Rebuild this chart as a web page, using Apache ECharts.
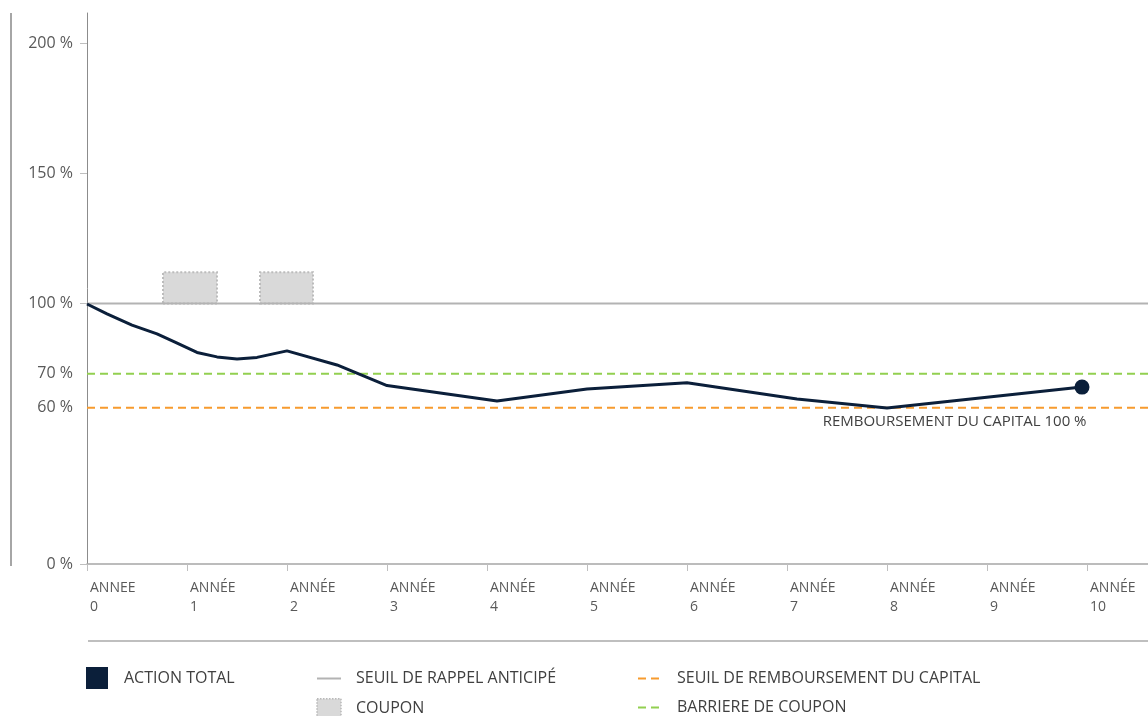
<!DOCTYPE html>
<html lang="fr">
  <head>
    <meta charset="UTF-8" />
    <title>Action Total - scénario</title>
    <script src="https://cdn.jsdelivr.net/npm/echarts@6/dist/echarts.min.js"></script>
    <style>
      html, body { margin: 0; padding: 0; background: #fff; }
      #main { width: 1148px; height: 716px; }
    </style>
  </head>
  <body>
    <div id="main"></div>
    <script type="text/javascript">
      // données
      const yearValues = [0, 1, 2, 3, 4, 5, 6, 7, 8, 9, 10];
      const yearLabels = ['ANNEE\n0', 'ANNÉE\n1', 'ANNÉE\n2', 'ANNÉE\n3', 'ANNÉE\n4', 'ANNÉE\n5',
        'ANNÉE\n6', 'ANNÉE\n7', 'ANNÉE\n8', 'ANNÉE\n9', 'ANNÉE\n10'];

      const rappelLevel = 100;
      const capitalLevel = 60;
      const barrierLevel = 73;

      const yTickValues = [0, 100, 150, 200];
      const yLabelValues = [0, capitalLevel, barrierLevel, 100, 150, 200];
      const yLabelTexts = ['0 %', '60 %', '70 %', '100 %', '150 %', '200 %'];

      const actionT = [0, 0.2, 0.45, 0.7, 0.88, 1.1, 1.3, 1.5, 1.7, 2.0, 2.5, 3.0, 4.1, 5.0, 6.0, 7.1, 8.0, 9.95];
      const actionV = [99.8, 96.0, 91.7, 88.3, 85.2, 81.2, 79.5, 78.7, 79.3, 81.8, 76.4, 68.5, 62.6, 67.2, 69.6, 63.3, 59.9, 67.9];

      const couponFrom = [0.76, 1.73];
      const couponTo = [1.3, 2.26];
      const couponTop = 112;

      const xMax = 10.61;
      const yMax = 211.5;

      const navy = '#0b1f3a';
      const grey = '#595959';
      const font = 'Open Sans';

      const actionData = actionT.map((t, i) => [t, actionV[i]]);
      const last = actionData[actionData.length - 1];

      const couponAreas = couponFrom.map((x0, i) => [
        { xAxis: x0, yAxis: rappelLevel },
        { xAxis: couponTo[i], yAxis: couponTop },
      ]);

      const levelLine = (name, level, color, dashed) => ({
        name,
        type: 'line',
        data: [[0, level], [xMax, level]],
        symbol: 'none',
        silent: true,
        itemStyle: { color },
        lineStyle: { color, width: 2, type: dashed ? [8, 5] : 'solid' },
      });

      // pas de rond dans l'icône de légende, seulement le trait
      const lineItem = (name) => ({ name, itemStyle: { color: 'rgba(0,0,0,0)', borderWidth: 0, opacity: 0 } });

      const legendText = { color: '#404040', fontSize: 16, fontFamily: font, lineHeight: 19 };

      const chart = echarts.init(document.getElementById('main'));

      const option = {
        animation: false,
        grid: { left: 87, right: 0, top: 13, bottom: 152 },
        xAxis: {
          type: 'value',
          min: 0,
          max: xMax,
          splitLine: { show: false },
          axisLine: { lineStyle: { color: '#a6a6a6', width: 1.5 } },
          axisTick: { customValues: yearValues, length: 7, lineStyle: { color: '#bfbfbf' } },
          axisLabel: {
            customValues: yearValues,
            formatter: (v) => yearLabels[yearValues.indexOf(Math.round(v))],
            align: 'left',
            padding: [0, 0, 0, 3],
            margin: 15,
            lineHeight: 19,
            fontSize: 14,
            fontFamily: font,
            color: grey,
          },
        },
        yAxis: {
          type: 'value',
          min: 0,
          max: yMax,
          splitLine: { show: false },
          axisLine: { show: true, lineStyle: { color: '#8c8c8c', width: 1 } },
          axisTick: { show: true, customValues: yTickValues, length: 7, lineStyle: { color: '#bfbfbf' } },
          axisLabel: {
            customValues: yLabelValues,
            formatter: (v) => yLabelTexts[yLabelValues.indexOf(v)],
            margin: 14,
            fontSize: 16,
            fontFamily: font,
            color: grey,
            padding: [0, 0, 12, 0],
          },
        },
        legend: [
          {
            left: 86,
            top: 667,
            padding: 0,
            icon: 'rect',
            itemWidth: 22,
            itemHeight: 22,
            selectedMode: false,
            textStyle: Object.assign({}, legendText, { padding: [0, 0, 0, 11] }),
            data: ['ACTION TOTAL'],
          },
          {
            left: 316,
            top: 669,
            height: 60,
            padding: 0,
            orient: 'vertical',
            itemWidth: 24,
            itemHeight: 19,
            itemGap: 10,
            selectedMode: false,
            textStyle: Object.assign({}, legendText, { padding: [0, 0, 0, 10] }),
            data: [
              lineItem('SEUIL DE RAPPEL ANTICIPÉ'),
              {
                name: 'COUPON',
                icon: 'rect',
                itemStyle: { color: '#d9d9d9', borderColor: '#b8b8b8', borderType: 'dotted', borderWidth: 1.5 },
              },
            ],
          },
          {
            left: 637,
            top: 669,
            height: 60,
            padding: 0,
            orient: 'vertical',
            itemWidth: 24,
            itemHeight: 19,
            itemGap: 10,
            selectedMode: false,
            textStyle: Object.assign({}, legendText, { padding: [0, 0, 0, 10] }),
            data: [lineItem('SEUIL DE REMBOURSEMENT DU CAPITAL'), lineItem('BARRIERE DE COUPON')],
          },
        ],
        graphic: [
          // filet vertical à gauche
          { type: 'line', shape: { x1: 11, y1: 13, x2: 11, y2: 566 }, style: { stroke: '#a6a6a6', lineWidth: 2 } },
          // séparateur au-dessus de la légende
          { type: 'line', shape: { x1: 88, y1: 641, x2: 1148, y2: 641 }, style: { stroke: '#bfbfbf', lineWidth: 2 } },
        ],
        series: [
          {
            name: 'COUPON',
            type: 'line',
            data: [],
            symbol: 'none',
            itemStyle: { color: '#d9d9d9' },
            markArea: {
              silent: true,
              itemStyle: { color: '#d9d9d9', borderColor: '#bcbcbc', borderType: 'dotted', borderWidth: 2 },
              data: couponAreas,
            },
          },
          levelLine('SEUIL DE RAPPEL ANTICIPÉ', rappelLevel, '#b3b3b3', false),
          levelLine('BARRIERE DE COUPON', barrierLevel, '#92d050', true),
          levelLine('SEUIL DE REMBOURSEMENT DU CAPITAL', capitalLevel, '#f79b2e', true),
          {
            name: 'ACTION TOTAL',
            type: 'line',
            data: actionData,
            showSymbol: false,
            smooth: false,
            itemStyle: { color: navy },
            lineStyle: { color: navy, width: 3 },
            z: 5,
          },
          {
            name: 'fin',
            type: 'scatter',
            data: [last],
            symbol: 'circle',
            symbolSize: 15,
            itemStyle: { color: navy, opacity: 1 },
            z: 6,
            label: {
              show: true,
              position: [12, 42],
              align: 'right',
              verticalAlign: 'middle',
              formatter: 'REMBOURSEMENT DU CAPITAL 100 %',
              color: '#404040',
              fontSize: 15,
              fontFamily: font,
            },
          },
        ],
      };

      chart.setOption(option);
    </script>
  </body>
</html>
